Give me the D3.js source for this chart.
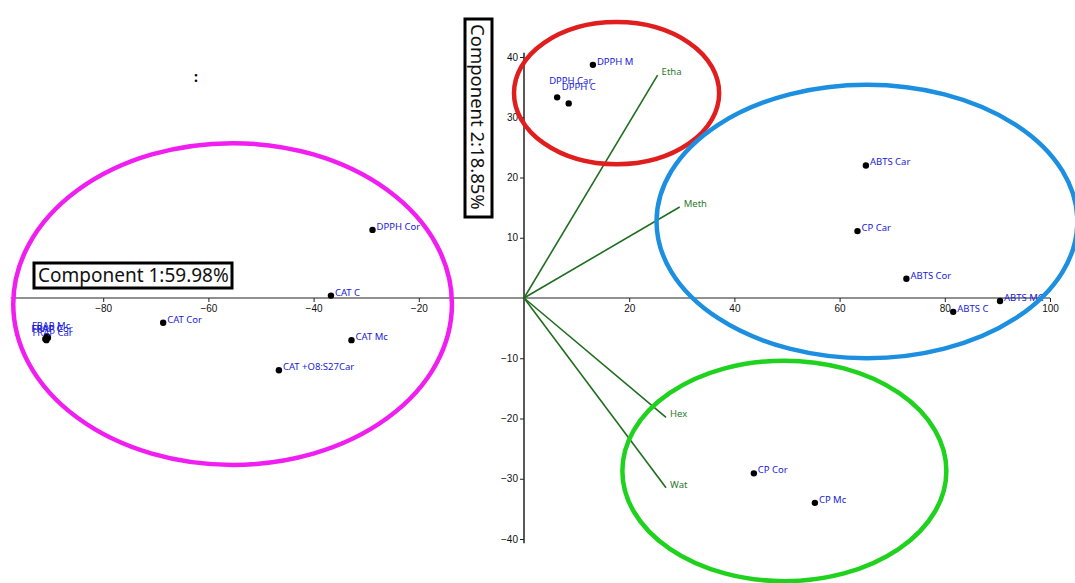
<!DOCTYPE html>
<html>
<head>
<meta charset="utf-8">
<script src="https://cdn.jsdelivr.net/npm/d3@7/dist/d3.min.js"></script>
<style>
  body { margin: 0; background: #fff; }
  svg { display: block; font-family: "Noto Sans", "Open Sans", sans-serif; }
</style>
</head>
<body>
<div id="chart"></div>
<script>
// scores (Component 1, Component 2)
const sampleNames = ["DPPH M", "DPPH Car", "DPPH C", "DPPH Cor", "CAT C", "CAT Cor", "CAT Mc", "CAT +O8:S27Car",
  "FRAP Mc", "FRAP C", "FRAP Car", "FRAP Cor",
  "ABTS Car", "CP Car", "ABTS Cor", "ABTS C", "ABTS MC", "CP Cor", "CP Mc"];
const sampleX = [13.1, 6.3, 8.5, -28.8, -36.7, -68.6, -32.8, -46.6,
  -90.7, -91.0, -90.8, -90.5,
  65.0, 63.4, 72.7, 81.6, 90.5, 43.7, 55.3];
const sampleY = [38.7, 33.3, 32.3, 11.3, 0.4, -4.1, -7.0, -12.0,
  -6.4, -6.8, -7.0, -6.6,
  22.0, 11.1, 3.2, -2.3, -0.5, -29.1, -34.0];

// loadings (biplot vectors)
const varNames = ["Etha", "Meth", "Hex", "Wat"];
const varX = [25.4, 29.6, 27.0, 27.0];
const varY = [37.0, 15.1, -19.8, -31.5];

// group ellipses: centre and radii in data units
const groupColors = ["#f01ef0", "#e01e1e", "#1c8fe0", "#1ed21e"];
const groupCx = [-55.4, 17.6, 65.2, 49.5];
const groupCy = [-1.0, 34.0, 12.7, -28.7];
const groupRx = [41.7, 19.5, 40.0, 30.8];
const groupRy = [26.7, 11.8, 22.7, 18.3];

const xTicks = [-80, -60, -40, -20, 20, 40, 60, 80, 100];
const yTicks = [-40, -30, -20, -10, 10, 20, 30, 40];

const width = 1075, height = 583;

const x = d3.scaleLinear().domain([-100, 100]).range([-2, 1050]);
const y = d3.scaleLinear().domain([-40, 40]).range([539, 57]);

const svg = d3.select("#chart").append("svg")
  .attr("width", width)
  .attr("height", height);

// axes through the origin
const xAxis = d3.axisBottom(x).tickValues(xTicks).tickSize(4).tickPadding(3);
const yAxis = d3.axisLeft(y).tickValues(yTicks).tickSize(4).tickPadding(2);

const gx = svg.append("g").attr("transform", "translate(0," + y(0) + ")").call(xAxis);
gx.select(".domain").remove();
gx.append("line")
  .attr("x1", x(-97.6)).attr("x2", x(100))
  .attr("stroke", "#222").attr("stroke-width", 1.2);

const gy = svg.append("g").attr("transform", "translate(" + x(0) + ",0)").call(yAxis);
gy.select(".domain").remove();
gy.append("line")
  .attr("y1", y(40.7)).attr("y2", y(-40.7))
  .attr("stroke", "#222").attr("stroke-width", 1.5);

svg.selectAll(".tick text").style("font-size", "10px").attr("fill", "#111");
svg.selectAll(".tick line").attr("stroke", "#222");

// loading vectors
const vectors = varNames.map((n, i) => ({ name: n, x: varX[i], y: varY[i] }));
svg.append("g").selectAll("line")
  .data(vectors).enter().append("line")
  .attr("x1", x(0)).attr("y1", y(0))
  .attr("x2", d => x(d.x)).attr("y2", d => y(d.y))
  .attr("stroke", "#1f6e1f").attr("stroke-width", 1.6);
svg.append("g").selectAll("text")
  .data(vectors).enter().append("text")
  .text(d => d.name)
  .attr("x", d => x(d.x) + 4)
  .attr("y", d => y(d.y))
  .attr("fill", "#2a7a2a")
  .style("font-size", "9.5px");

// sample points
const samples = sampleNames.map((n, i) => ({ name: n, x: sampleX[i], y: sampleY[i] }));
// label shifts where the labels were moved off their point
const labelShift = {
  "DPPH Car": [-12, -13], "DPPH C": [-11, -13],
  "FRAP Mc": [-19, -8], "FRAP C": [-18, -7], "FRAP Car": [-18, -4], "FRAP Cor": [-20, -6]
};

svg.append("g").selectAll("circle")
  .data(samples).enter().append("circle")
  .attr("cx", d => x(d.x))
  .attr("cy", d => y(d.y))
  .attr("r", 3.2)
  .attr("fill", "#000");

svg.append("g").selectAll("text")
  .data(samples).enter().append("text")
  .text(d => d.name)
  .attr("x", d => x(d.x) + 4 + (labelShift[d.name] ? labelShift[d.name][0] : 0))
  .attr("y", d => y(d.y) + (labelShift[d.name] ? labelShift[d.name][1] : 0))
  .attr("fill", "#1a1ad8")
  .style("font-size", "9.5px");

// group ellipses
const groups = groupColors.map((c, i) => ({ color: c, cx: groupCx[i], cy: groupCy[i], rx: groupRx[i], ry: groupRy[i] }));
svg.append("g").selectAll("ellipse")
  .data(groups).enter().append("ellipse")
  .attr("cx", d => x(d.cx))
  .attr("cy", d => y(d.cy))
  .attr("rx", d => x(d.rx) - x(0))
  .attr("ry", d => y(0) - y(d.ry))
  .attr("fill", "none")
  .attr("stroke", d => d.color)
  .attr("stroke-width", 4.5);

// axis title boxes
svg.append("rect")
  .attr("x", 34).attr("y", 263).attr("width", 198).attr("height", 25)
  .attr("fill", "#fff").attr("stroke", "#000").attr("stroke-width", 3);
svg.append("text")
  .text("Component 1:59.98%")
  .attr("x", 38).attr("y", 282)
  .style("font-size", "19px")
  .attr("fill", "#111");

svg.append("rect")
  .attr("x", 465).attr("y", 19).attr("width", 27).attr("height", 198)
  .attr("fill", "#fff").attr("stroke", "#000").attr("stroke-width", 3);
svg.append("text")
  .text("Component 2:18.85%")
  .attr("transform", "translate(471,24) rotate(90)")
  .style("font-size", "18.5px")
  .attr("fill", "#111");

// stray marks
svg.append("text").text(":")
  .attr("x", 194).attr("y", 82)
  .style("font-size", "14px").style("font-weight", "bold");
</script>
</body>
</html>
